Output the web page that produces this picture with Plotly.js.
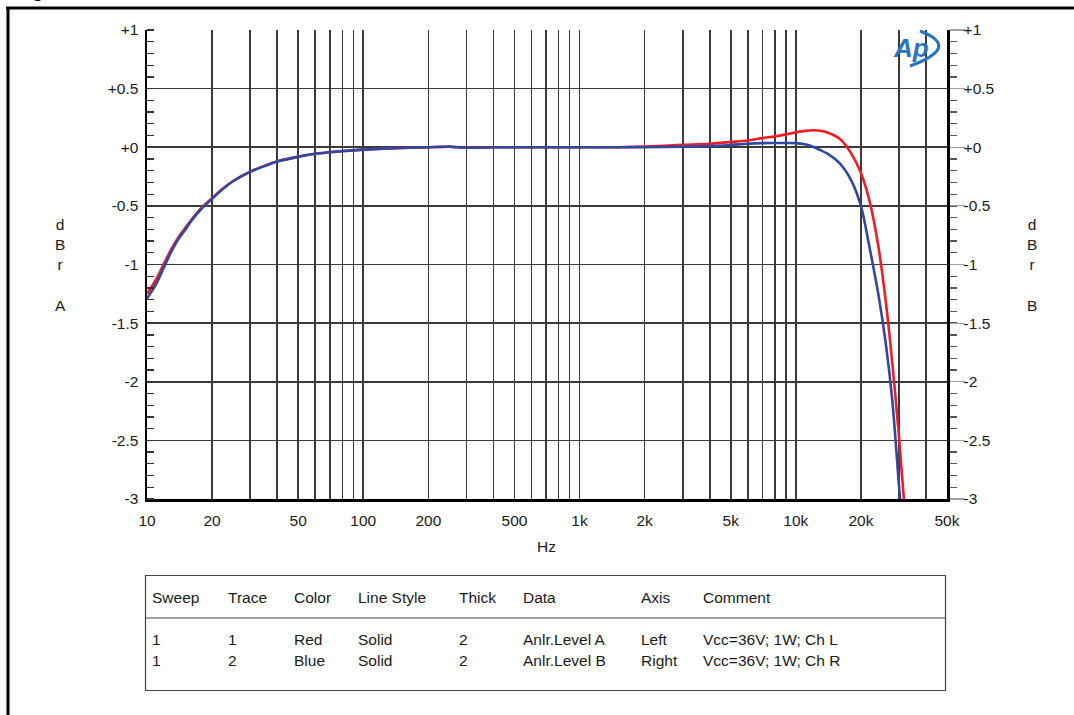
<!DOCTYPE html>
<html><head><meta charset="utf-8">
<script src="https://cdn.plot.ly/plotly-3.0.1.min.js"></script>
<style>html,body{margin:0;padding:0;background:#fff;} #chart{width:1074px;height:715px;}</style>
</head><body><div id="chart"></div>
<script>
// ---- data ----
const freqHz = [10, 11, 12, 13, 14, 15, 16, 18, 20, 22, 25, 30, 35, 40, 50, 60, 70, 80, 100, 150, 200, 250, 300, 400, 500, 700, 1000, 1500, 2000, 3000, 4000, 5000, 6000, 7000, 8000, 9000, 10000, 11000, 12000, 13000, 14000, 16000, 18000, 20000, 22000, 24000, 26000, 28000, 30000, 31000, 32000];
const levelA = [-1.25, -1.13, -0.99, -0.865, -0.765, -0.69, -0.62, -0.51, -0.435, -0.365, -0.288, -0.208, -0.158, -0.12, -0.08, -0.055, -0.042, -0.032, -0.02, -0.005, 0, 0.005, -0.004, 0, 0, 0, 0, 0, 0.005, 0.02, 0.03, 0.045, 0.058, 0.078, 0.093, 0.11, 0.127, 0.14, 0.145, 0.14, 0.125, 0.07, -0.05, -0.22, -0.47, -0.83, -1.3, -1.86, -2.47, -2.81, -3.12];
const levelB = [-1.29, -1.17, -1.02, -0.885, -0.78, -0.705, -0.63, -0.52, -0.44, -0.37, -0.29, -0.21, -0.16, -0.122, -0.082, -0.056, -0.043, -0.033, -0.02, -0.005, 0, 0.004, -0.004, 0, 0, 0, 0, 0, 0, 0.005, 0.01, 0.02, 0.03, 0.035, 0.036, 0.036, 0.035, 0.025, 0.005, -0.025, -0.055, -0.14, -0.28, -0.5, -0.87, -1.24, -1.66, -2.18, -2.89, -3.2, -3.45];
const xTickVals = [10, 20, 50, 100, 200, 500, 1000, 2000, 5000, 10000, 20000, 50000];
const xTickText = ['10', '20', '50', '100', '200', '500', '1k', '2k', '5k', '10k', '20k', '50k'];
const yTickVals = [-3, -2.5, -2, -1.5, -1, -0.5, 0, 0.5, 1];
const yTickText = ['-3', '-2.5', '-2', '-1.5', '-1', '-0.5', '+0', '+0.5', '+1'];
const tableHeader = ['Sweep', 'Trace', 'Color', 'Line Style', 'Thick', 'Data', 'Axis', 'Comment'];
const tableRow1 = ['1', '1', 'Red', 'Solid', '2', 'Anlr.Level A', 'Left', 'Vcc=36V; 1W; Ch L'];
const tableRow2 = ['1', '2', 'Blue', 'Solid', '2', 'Anlr.Level B', 'Right', 'Vcc=36V; 1W; Ch R'];

// ---- geometry ----
const W = 1074, H = 715, ML = 147, MR = 127, MT = 30, MB = 216;
const PW = W - ML - MR, PH = H - MT - MB;
const px = v => (v - ML) / PW;
const py = v => (H - MB - v) / PH;
const FONT = 'Liberation Sans, Arial, sans-serif';
const GRID = '#3a3a3a';

// grid lines at every 1..9 x decade (labels only on main ticks)
const minorGrid = [];
[10, 100, 1000, 10000].forEach(d => { for (let m = 1; m <= 9; m++) { const v = m * d; if (v < 50000 && xTickVals.indexOf(v) < 0) minorGrid.push(v); } });

const traces = [
  {x: freqHz, y: levelA, type: 'scatter', mode: 'lines', line: {color: '#ee1c25', width: 2.6, shape: 'spline', smoothing: 0.8}, yaxis: 'y', hoverinfo: 'skip'},
  {x: freqHz, y: levelB, type: 'scatter', mode: 'lines', line: {color: '#3048a0', width: 2.6, shape: 'spline', smoothing: 0.8}, yaxis: 'y2', hoverinfo: 'skip'}
];

const colX = [150, 226, 292, 356, 457, 521, 639, 701];
const annotations = [];
function txt(t, x, y, opts) {
  annotations.push(Object.assign({text: t, xref: 'paper', yref: 'paper', x: px(x), y: py(y), xanchor: 'left', yanchor: 'middle', showarrow: false, font: {family: FONT, size: 15.5, color: '#1a1a1a'}}, opts || {}));
}
tableHeader.forEach((t, i) => txt(t, colX[i], 597));
tableRow1.forEach((t, i) => txt(t, colX[i], 639));
tableRow2.forEach((t, i) => txt(t, colX[i], 660));
txt('Hz', 546.7, 546, {xanchor: 'center'});
txt('d<br>B<br>r<br> <br>A', 60, 265, {xanchor: 'center'});
txt('d<br>B<br>r<br> <br>B', 1032, 265, {xanchor: 'center'});
txt('<b>Figure</b>', 12, -9.5, {font: {family: FONT, size: 20, color: '#000'}});
txt('<b><i>Ap</i></b>', 911, 48, {xanchor: 'center', font: {family: FONT, size: 26, color: '#2a73c0'}});

const shapes = [
  {type: 'line', xref: 'paper', yref: 'paper', x0: px(6), x1: px(1074), y0: py(8), y1: py(8), line: {color: '#000', width: 3}},
  {type: 'line', xref: 'paper', yref: 'paper', x0: px(8), x1: px(8), y0: py(7), y1: py(716), line: {color: '#000', width: 3}},
  {type: 'rect', xref: 'paper', yref: 'paper', x0: px(145.5), x1: px(945.5), y0: py(575.5), y1: py(690.5), line: {color: '#444', width: 1.2}},
  {type: 'line', xref: 'paper', yref: 'paper', x0: px(145.5), x1: px(945.5), y0: py(618), y1: py(618), line: {color: '#444', width: 1.2}},
  {type: 'path', xref: 'paper', yref: 'paper',
   path: 'M ' + px(920) + ' ' + py(31) + ' Q ' + px(962) + ' ' + py(47) + ' ' + px(910) + ' ' + py(66),
   line: {color: '#2a73c0', width: 3}}
];

const layout = {
  width: W, height: H,
  margin: {l: ML, r: MR, t: MT, b: MB, pad: 0},
  paper_bgcolor: '#fff', plot_bgcolor: '#fff',
  showlegend: false,
  font: {family: FONT, size: 15.5, color: '#1a1a1a'},
  xaxis: {
    type: 'log', range: [1, Math.log10(50000)],
    tickmode: 'array', tickvals: xTickVals, ticktext: xTickText,
    ticks: '', ticklabelstandoff: 6,
    showgrid: true, gridcolor: GRID, gridwidth: 1.6,
    minor: {tickmode: 'array', tickvals: minorGrid, showgrid: true, gridcolor: GRID, gridwidth: 1.6, ticks: ''},
    showline: true, linecolor: '#000', linewidth: 2.5, zeroline: false,
    tickfont: {family: FONT, size: 15.5, color: '#1a1a1a'}
  },
  yaxis: {
    range: [-3, 1], tickmode: 'array', tickvals: yTickVals, ticktext: yTickText,
    ticks: '', ticklabelstandoff: 3,
    showgrid: true, gridcolor: GRID, gridwidth: 1.6, zeroline: false,
    minor: {dtick: 0.1, tick0: 0, ticks: 'inside', ticklen: 7, tickcolor: '#333', tickwidth: 1.3, showgrid: false},
    showline: true, linecolor: '#000', linewidth: 2.5,
    tickfont: {family: FONT, size: 15.5, color: '#1a1a1a'}
  },
  yaxis2: {
    overlaying: 'y', side: 'right', anchor: 'x',
    range: [-3, 1], tickmode: 'array', tickvals: yTickVals, ticktext: yTickText,
    ticks: 'outside', ticklen: 15, tickcolor: '#a0a0a0', tickwidth: 1.2, ticklabelstandoff: -4,
    showgrid: false, zeroline: false,
    minor: {dtick: 0.1, tick0: 0, ticks: 'outside', ticklen: 7, tickcolor: '#555', tickwidth: 1.3, showgrid: false},
    showline: true, linecolor: '#000', linewidth: 2.5,
    tickfont: {family: FONT, size: 15.5, color: '#1a1a1a'}
  },
  annotations: annotations,
  shapes: shapes
};

Plotly.newPlot('chart', traces, layout, {staticPlot: true, displayModeBar: false});
</script>
</body></html>
